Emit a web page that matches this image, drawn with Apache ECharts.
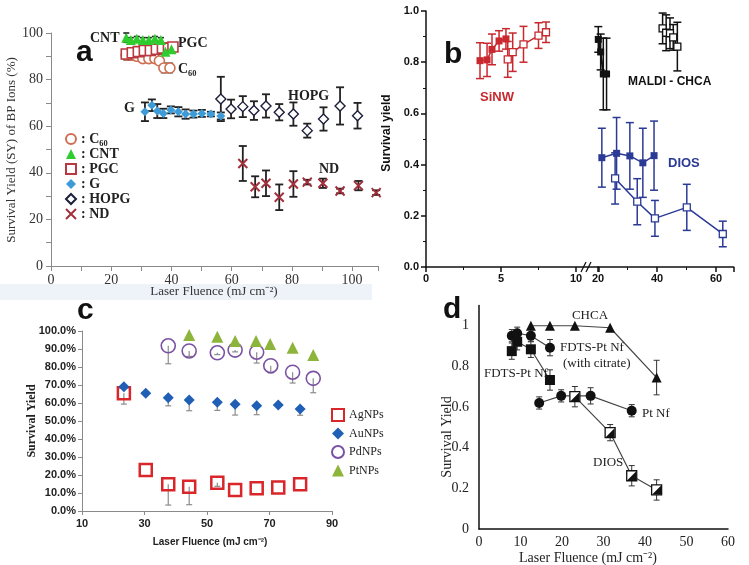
<!DOCTYPE html>
<html><head><meta charset="utf-8">
<script src="https://cdn.jsdelivr.net/npm/echarts@6/dist/echarts.min.js"></script>
<style>html,body{margin:0;padding:0;background:#fff}#c{width:749px;height:565px}</style>
</head><body><div id="c"></div>
<script>
// ---------- Panel a data ----------
const aC60X = [25, 26.5, 28.5, 30.5, 32.5, 34.5, 36, 37.5, 39.5];
const aC60Y = [90.5, 90.5, 90, 89, 89, 89, 88, 85, 85];
const aC60E = [2, 2, 1.5, 1.5, 1.5, 1.5, 1.5, 2, 2];
const aCNTX = [25, 26.5, 28.5, 30.5, 32.5, 34.5, 36.5, 38, 40];
const aCNTY = [98, 97, 97.5, 97, 97, 97.5, 97, 92, 93];
const aCNTE = [2, 1, 1, 1, 1, 1, 1, 1, 1];
const aPGCX = [25, 27, 29, 31, 33, 35, 37, 39, 40.5];
const aPGCY = [91, 91.5, 92, 92.5, 92.5, 93, 93.5, 93.5, 94];
const aPGCE = [1.5, 1.5, 1.5, 1.5, 1.5, 1.5, 1.5, 1.5, 1.5];
const aGX = [31.2, 33.5, 35.3, 37.3, 39.8, 42.3, 44.7, 47.3, 50.1, 53.1, 56.4];
const aGY = [66.2, 69, 66.5, 65.5, 67, 66.2, 65.2, 65.2, 65.5, 65.2, 64.4];
const aGE = [4, 2.5, 3, 2, 1.5, 2, 2, 1.5, 1.5, 1, 1.5];
const aHOPGX = [56.4, 59.8, 63.7, 67.4, 71.4, 75.8, 80.5, 85.1, 90.5, 96.0, 101.8];
const aHOPGY = [71.7, 67.4, 68.4, 66.7, 68.7, 66, 65.2, 58.1, 63.1, 68.7, 64.5];
const aHOPGE = [9.5, 4, 4.5, 4, 5, 3.5, 5, 3, 5, 8, 5.5];
const aNDX = [63.7, 67.8, 71.4, 75.8, 80.5, 85.1, 90.3, 96.0, 102.1, 108];
const aNDY = [44, 34, 35.5, 29.5, 35.2, 36, 35.5, 32.2, 34.5, 31.5];
const aNDE = [7.5, 4.5, 5.5, 5.5, 5.5, 1, 2, 1, 2, 1];
const aXTicks = [0, 108.6, 20];   // min, max, interval
const aYTicks = [0, 100, 20];

// ---------- Panel b data ----------
const bSiFX = [3.6, 4.07, 4.4, 4.87, 5.33];
const bSiFY = [0.806, 0.809, 0.85, 0.883, 0.891];
const bSiFE = [0.07, 0.065, 0.06, 0.04, 0.04];
const bSiOX = [5.45, 5.78, 6.5, 7.5, 8.0];
const bSiOY = [0.811, 0.839, 0.87, 0.904, 0.917];
const bSiOE = [0.07, 0.075, 0.07, 0.05, 0.04];
const bChFX = [20.1, 20.9, 21.8, 22.9];
const bChFY = [0.889, 0.84, 0.754, 0.754];
const bChFE = [0.05, 0.07, 0.14, 0.14];
const bChOX = [41.9, 43.1, 44.4, 45.5, 46.9];
const bChOY = [0.932, 0.915, 0.913, 0.897, 0.861];
const bChOE = [0.06, 0.07, 0.06, 0.05, 0.095];
const bDiFX = [21.3, 26.3, 30.8, 35.2, 39.0];
const bDiFY = [0.427, 0.444, 0.434, 0.407, 0.435];
const bDiFE = [0.115, 0.14, 0.13, 0.135, 0.135];
const bDiOX = [25.8, 33.3, 39.3, 50.1, 62.3];
const bDiOY = [0.346, 0.255, 0.19, 0.233, 0.129];
const bDiOE = [0.1, 0.09, 0.07, 0.09, 0.05];
const bXLeftTicks = [0, 11.5, 5];
const bXRightTicks = [20, 66, 20];
const bYTicks = [0, 1, 0.2];

// ---------- Panel c data ----------
const cX = [23.4, 30.4, 37.6, 44.3, 53.3, 59, 65.9, 72.8, 79.8];
const cAgY = [65.4, 22.8, 14.8, 13.5, 15.7, 11.7, 12.6, 13.1, 14.8];
const cAgE = [6, 0, 11.5, 10, 2, 0, 0, 0, 0];
const cAuY = [69, 65.4, 62.9, 61.7, 60.4, 59.3, 58.5, 58.9, 56.7];
const cAuE = [0, 0, 4.5, 6, 4.5, 6, 5, 0, 3.5];
const cPdX = [37.6, 44.3, 53.3, 59, 65.9, 70.4, 77.4, 84.0];
const cPdY = [91.8, 88.9, 87.9, 89.4, 88.2, 80.7, 77.1, 73.7];
const cPdE = [10, 3, 1, 1, 6, 4, 6, 8];
const cPtX = [44.3, 53.3, 59, 65.7, 70.2, 77.4, 84];
const cPtY = [97.8, 96.8, 94.4, 94.4, 92.8, 90.7, 86.7];
const cXTicks = [10, 90, 20];
const cYTicks = [0, 100, 10];

// ---------- Panel d data ----------
const dChX = [12.5, 17.1, 23.1, 31.6, 42.8];
const dChY = [1, 1, 1, 0.99, 0.745];
const dChE = [0, 0, 0, 0, 0.085];
const dFcX = [7.9, 9.2, 12.5, 17.1];
const dFcY = [0.951, 0.963, 0.951, 0.892];
const dFcE = [0.03, 0.03, 0.03, 0.04];
const dFX = [7.9, 9.2, 12.5, 17.1];
const dFY = [0.875, 0.921, 0.884, 0.733];
const dFE = [0.04, 0.04, 0.04, 0.05];
const dPtX = [14.5, 19.8, 26.9, 36.8];
const dPtY = [0.62, 0.655, 0.655, 0.582];
const dPtE = [0.03, 0.03, 0.04, 0.03];
const dDiX = [23.1, 31.6, 36.8, 42.8];
const dDiY = [0.651, 0.474, 0.262, 0.192];
const dDiE = [0.05, 0.04, 0.05, 0.05];
const dXTicks = [0, 60, 10];
const dYTicks = [0, 1.1, 0.2];

// ---------- helpers ----------
const SERIF = '"Liberation Serif", "Times New Roman", serif';
const SANS = '"Liberation Sans", Arial, sans-serif';
const XPATH = 'path://M0,0 L10,10 M10,0 L0,10';
const HALF = 'path://M10,0 L10,10 L0,10 Z';

function pts(xs, ys) { return xs.map((x, i) => [x, ys[i]]); }

function errS(gi, xs, ys, es, color, lw, cap, downOnly) {
  const data = [];
  xs.forEach((x, i) => { if (es[i] > 0) data.push([x, ys[i] - es[i], downOnly ? ys[i] : ys[i] + es[i]]); });
  return {
    type: 'custom', xAxisIndex: gi, yAxisIndex: gi, z: 1, silent: true, clip: false,
    encode: { x: 0, y: [1, 2] },
    renderItem: function (p, api) {
      const x = api.value(0), lo = api.value(1), hi = api.value(2);
      const a = api.coord([x, hi]), b = api.coord([x, lo]);
      const st = { stroke: color, lineWidth: lw, fill: null };
      const ch = [{ type: 'line', shape: { x1: a[0], y1: a[1], x2: b[0], y2: b[1] }, style: st }];
      if (cap > 0) {
        if (!downOnly) ch.push({ type: 'line', shape: { x1: a[0] - cap, y1: a[1], x2: a[0] + cap, y2: a[1] }, style: st });
        ch.push({ type: 'line', shape: { x1: b[0] - cap, y1: b[1], x2: b[0] + cap, y2: b[1] }, style: st });
      }
      return { type: 'group', children: ch };
    },
    data: data
  };
}
function sc(gi, name, xs, ys, sym, size, fill, stroke, bw, z) {
  return { type: 'scatter', name: name, xAxisIndex: gi, yAxisIndex: gi, symbol: sym, symbolSize: size, z: z || 3,
    itemStyle: { color: fill, borderColor: stroke, borderWidth: bw, opacity: 1 },
    emphasis: { disabled: true }, data: pts(xs, ys) };
}
function ln(gi, name, xs, ys, sym, size, fill, stroke, bw, lc, lw) {
  return { type: 'line', name: name, xAxisIndex: gi, yAxisIndex: gi, symbol: sym, symbolSize: size, showSymbol: true, z: 3,
    itemStyle: { color: fill, borderColor: stroke, borderWidth: bw },
    lineStyle: { color: lc, width: lw }, emphasis: { disabled: true }, data: pts(xs, ys) };
}
function txt(x, y, text, font, color, align, rot) {
  return { type: 'text', x: x, y: y, rotation: rot || 0, z: 10, silent: true,
    style: { text: text, font: font, fill: color || '#222', align: align || 'left', verticalAlign: 'middle' } };
}
function valAxis(gi, t, o) {
  return Object.assign({ gridIndex: gi, type: 'value', min: t[0], max: t[1], interval: t[2], splitLine: { show: false } }, o);
}

// ---------- axes ----------
const grayLine = { lineStyle: { color: '#8a8a8a', width: 1 } };
const blackLine = { lineStyle: { color: '#111', width: 1.5 } };

const xAxes = [
  valAxis(0, aXTicks, { axisLine: Object.assign({ onZero: false }, grayLine), axisTick: Object.assign({ length: 5 }, grayLine),
    minorTick: Object.assign({ show: true, splitNumber: 2, length: 5 }, grayLine),
    axisLabel: { fontFamily: SERIF, fontSize: 14, color: '#333', margin: 7, showMaxLabel: false } }),
  valAxis(1, bXLeftTicks, { axisLine: Object.assign({ onZero: false }, blackLine), axisTick: Object.assign({ length: 5 }, blackLine),
    minorTick: { show: true, splitNumber: 2, length: 3, lineStyle: { color: '#111' } },
    axisLabel: { fontFamily: SANS, fontSize: 11, fontWeight: 'bold', color: '#111', margin: 6, showMaxLabel: false } }),
  valAxis(2, bXRightTicks, { axisLine: Object.assign({ onZero: false }, blackLine), axisTick: Object.assign({ length: 5 }, blackLine),
    minorTick: { show: true, splitNumber: 2, length: 3, lineStyle: { color: '#111' } },
    axisLabel: { fontFamily: SANS, fontSize: 11, fontWeight: 'bold', color: '#111', margin: 6, showMaxLabel: false } }),
  valAxis(3, cXTicks, { axisLine: Object.assign({ onZero: false }, grayLine), axisTick: Object.assign({ length: 4 }, grayLine),
    axisLabel: { fontFamily: SANS, fontSize: 11, fontWeight: 'bold', color: '#222', margin: 7 } }),
  valAxis(4, dXTicks, { axisLine: Object.assign({ onZero: false }, blackLine), axisTick: { show: false },
    axisLabel: { fontFamily: SERIF, fontSize: 14, color: '#222', margin: 6 } })
];
const yAxes = [
  valAxis(0, aYTicks, { axisLine: Object.assign({ onZero: false }, grayLine), axisTick: Object.assign({ length: 5 }, grayLine),
    minorTick: Object.assign({ show: true, splitNumber: 2, length: 5 }, grayLine),
    axisLabel: { fontFamily: SERIF, fontSize: 14, color: '#333', margin: 8 } }),
  valAxis(1, bYTicks, { axisLine: Object.assign({ onZero: false }, blackLine), axisTick: Object.assign({ length: 5 }, blackLine),
    minorTick: { show: true, splitNumber: 2, length: 3, lineStyle: { color: '#111' } },
    axisLabel: { fontFamily: SANS, fontSize: 11, fontWeight: 'bold', color: '#111', margin: 7, formatter: v => v.toFixed(1) } }),
  valAxis(2, bYTicks, { show: false }),
  valAxis(3, cYTicks, { axisLine: Object.assign({ onZero: false }, grayLine), axisTick: Object.assign({ length: 4 }, grayLine),
    axisLabel: { fontFamily: SANS, fontSize: 11, fontWeight: 'bold', color: '#222', margin: 6, formatter: v => v.toFixed(1) + '%' } }),
  valAxis(4, dYTicks, { axisLine: Object.assign({ onZero: false }, blackLine), axisTick: { show: false },
    axisLabel: { fontFamily: SERIF, fontSize: 14, color: '#222', margin: 10, showMaxLabel: false } })
];

// ---------- series ----------
const cA = { c60: '#cf6f52', cnt: '#2ecc2e', pgc: '#b8393f', g: '#3d9bd8', hopg: '#1c1f3a', nd: '#a3303c' };
const redB = '#c8282e', blueB = '#2b3a95';
const series = [
  // panel a
  errS(0, aC60X, aC60Y, aC60E, '#222', 1.6, 3),
  errS(0, aCNTX, aCNTY, aCNTE, '#222', 1.6, 3),
  errS(0, aPGCX, aPGCY, aPGCE, '#222', 1.6, 3),
  errS(0, aGX, aGY, aGE, '#222', 1.8, 4),
  errS(0, aHOPGX, aHOPGY, aHOPGE, '#222', 1.8, 4),
  errS(0, aNDX, aNDY, aNDE, '#222', 1.8, 4),
  sc(0, 'C60', aC60X, aC60Y, 'circle', 10, '#fff', cA.c60, 1.6),
  sc(0, 'PGC', aPGCX, aPGCY, 'rect', 10, '#fff', cA.pgc, 1.6),
  sc(0, 'CNT', aCNTX, aCNTY, 'triangle', 10, cA.cnt, cA.cnt, 0),
  sc(0, 'G', aGX, aGY, 'diamond', 9, cA.g, cA.g, 0),
  sc(0, 'HOPG', aHOPGX, aHOPGY, 'diamond', 10, '#fff', cA.hopg, 1.4),
  sc(0, 'ND', aNDX, aNDY, XPATH, 9, cA.nd, cA.nd, 2),
  // panel b
  errS(1, bSiFX, bSiFY, bSiFE, redB, 1.5, 4),
  errS(1, bSiOX, bSiOY, bSiOE, redB, 1.5, 4),
  errS(2, bChFX, bChFY, bChFE, '#111', 1.5, 4),
  errS(2, bChOX, bChOY, bChOE, '#111', 1.5, 4),
  errS(2, bDiFX, bDiFY, bDiFE, blueB, 1.5, 4),
  errS(2, bDiOX, bDiOY, bDiOE, blueB, 1.5, 4),
  ln(1, 'SiNW filled', bSiFX, bSiFY, 'rect', 7, redB, redB, 0, redB, 1.5),
  ln(1, 'SiNW open', bSiOX, bSiOY, 'rect', 7, '#fff', redB, 1.3, redB, 1.5),
  ln(2, 'CHCA filled', bChFX, bChFY, 'rect', 7, '#111', '#111', 0, '#111', 2),
  ln(2, 'CHCA open', bChOX, bChOY, 'rect', 7, '#fff', '#111', 1.3, '#111', 1.5),
  ln(2, 'DIOS filled', bDiFX, bDiFY, 'rect', 7, blueB, blueB, 0, blueB, 1.5),
  ln(2, 'DIOS open', bDiOX, bDiOY, 'rect', 7, '#fff', blueB, 1.3, blueB, 1.5),
  // panel c
  errS(3, cX, cAgY, cAgE, '#8c8c8c', 1.2, 3, true),
  errS(3, cX, cAuY, cAuE, '#8c8c8c', 1.2, 3, true),
  errS(3, cPdX, cPdY, cPdE, '#8c8c8c', 1.2, 3, true),
  sc(3, 'AgNPs', cX, cAgY, 'rect', 12, 'rgba(255,255,255,0)', '#d9262b', 2.5),
  sc(3, 'AuNPs', cX, cAuY, 'diamond', 11, '#1f5fb5', '#1f5fb5', 0),
  sc(3, 'PdNPs', cPdX, cPdY, 'circle', 14, 'rgba(255,255,255,0)', '#7b52a3', 1.6),
  sc(3, 'PtNPs', cPtX, cPtY, 'triangle', 12, '#8db43b', '#8db43b', 0),
  // panel d
  errS(4, dChX, dChY, dChE, '#333', 1, 3),
  errS(4, dFcX, dFcY, dFcE, '#333', 1, 3),
  errS(4, dFX, dFY, dFE, '#333', 1, 3),
  errS(4, dPtX, dPtY, dPtE, '#333', 1, 3),
  errS(4, dDiX, dDiY, dDiE, '#333', 1, 3),
  ln(4, 'CHCA d', dChX, dChY, 'triangle', 10, '#111', '#111', 0, '#444', 1.2),
  ln(4, 'FDTS citrate d', dFcX, dFcY, 'circle', 10, '#111', '#111', 0, '#444', 1.2),
  ln(4, 'FDTS d', dFX, dFY, 'rect', 10, '#111', '#111', 0, '#444', 1.2),
  ln(4, 'Pt Nf d', dPtX, dPtY, 'circle', 10, '#111', '#111', 0, '#444', 1.2),
  ln(4, 'DIOS d', dDiX, dDiY, 'rect', 10, '#fff', '#111', 1.3, '#444', 1.2),
  sc(4, 'DIOS d half', dDiX, dDiY, HALF, 9, '#111', '#111', 0, 4)
];

const sup = 'cm\u207B\u00B2';
const graphic = [
  { type: 'rect', shape: { x: 0, y: 284, width: 372, height: 16 }, style: { fill: '#eef3f9' }, z: 0, silent: true },
  // panel a
  txt(76, 53, 'a', 'bold 30px ' + SANS, '#111'),
  txt(90, 38, 'CNT', 'bold 14px ' + SERIF, '#222'),
  txt(178, 43, 'PGC', 'bold 14px ' + SERIF, '#222'),
  txt(178, 69, 'C\u2086\u2080', 'bold 14px ' + SERIF, '#222'),
  txt(124, 108, 'G', 'bold 14px ' + SERIF, '#222'),
  txt(288, 96, 'HOPG', 'bold 14px ' + SERIF, '#222'),
  txt(319, 169, 'ND', 'bold 14px ' + SERIF, '#222'),
  txt(12, 150, 'Survival Yield (SY) of BP Ions (%)', '13px ' + SERIF, '#333', 'center', Math.PI / 2),
  txt(214, 292, 'Laser Fluence (mJ ' + sup + ')', '13px ' + SERIF, '#333', 'center'),
  // panel b
  txt(444, 55, 'b', 'bold 30px ' + SANS, '#111'),
  txt(480, 97, 'SiNW', 'bold 13px ' + SANS, redB),
  txt(628, 82, 'MALDI - CHCA', 'bold 12px ' + SANS, '#111'),
  txt(668, 163, 'DIOS', 'bold 13px ' + SANS, blueB),
  txt(387, 133, 'Survival yield', 'bold 12px ' + SANS, '#111', 'center', Math.PI / 2),
  { type: 'line', shape: { x1: 581, y1: 272, x2: 586, y2: 262 }, style: { stroke: '#111', lineWidth: 1.3 }, z: 10 },
  { type: 'line', shape: { x1: 586, y1: 272, x2: 591, y2: 262 }, style: { stroke: '#111', lineWidth: 1.3 }, z: 10 },
  // panel c
  txt(77, 311, 'c', 'bold 30px ' + SANS, '#111'),
  txt(32, 421, 'Survival Yield', 'bold 12px ' + SERIF, '#222', 'center', Math.PI / 2),
  txt(210, 542, 'Laser Fluence (mJ ' + sup + ')', 'bold 10px ' + SANS, '#222', 'center'),
  // panel d
  txt(443, 310, 'd', 'bold 30px ' + SANS, '#111'),
  txt(590, 316, 'CHCA', '13px ' + SERIF, '#222', 'center'),
  txt(560, 348, 'FDTS-Pt Nf', '13px ' + SERIF, '#222'),
  txt(563, 364, '(with citrate)', '13px ' + SERIF, '#222'),
  txt(484, 374, 'FDTS-Pt Nf', '13px ' + SERIF, '#222'),
  txt(642, 414, 'Pt Nf', '13px ' + SERIF, '#222'),
  txt(593, 463, 'DIOS', '13px ' + SERIF, '#222'),
  txt(447, 437, 'Survival Yield', '14px ' + SERIF, '#222', 'center', Math.PI / 2),
  txt(588, 558, 'Laser Fluence (mJ ' + sup + ')', '14px ' + SERIF, '#222', 'center')
];

const chart = echarts.init(document.getElementById('c'), null, { renderer: 'canvas' });
chart.setOption({
  animation: false,
  backgroundColor: '#fff',
  grid: [
    { left: 51, top: 33, width: 327, height: 233 },
    { left: 426, top: 11, width: 172.5, height: 256 },
    { left: 598, top: 11, width: 135.7, height: 256 },
    { left: 82, top: 331, width: 250, height: 180 },
    { left: 479, top: 305.4, width: 249, height: 223.6 }
  ],
  xAxis: xAxes,
  yAxis: yAxes,
  legend: [
    { left: 60, top: 127, orient: 'vertical', itemWidth: 10, itemHeight: 10, itemGap: 1, selectedMode: false,
      data: ['C60', 'CNT', 'PGC', 'G', 'HOPG', 'ND'],
      formatter: n => ': ' + (n === 'C60' ? 'C\u2086\u2080' : n),
      textStyle: { fontFamily: SERIF, fontSize: 14, lineHeight: 14, fontWeight: 'bold', color: '#222' } },
    { left: 326, top: 403, orient: 'vertical', itemWidth: 12, itemHeight: 12, itemGap: 5.5, selectedMode: false,
      data: ['AgNPs', 'AuNPs', 'PdNPs', 'PtNPs'],
      textStyle: { fontFamily: SERIF, fontSize: 12, lineHeight: 12, color: '#222' } }
  ],
  series: series,
  graphic: graphic
});
</script></body></html>
